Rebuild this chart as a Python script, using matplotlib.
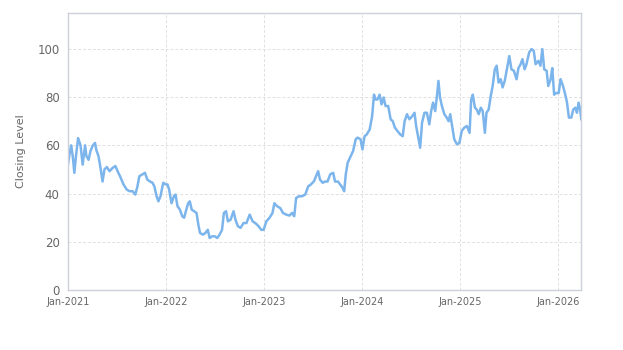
#!/usr/bin/env python3

import numpy as np
import pandas as pd
import matplotlib
matplotlib.use("Agg")
import matplotlib.pyplot as plt
import matplotlib.dates as mdates

# days since 2021-01-01
days = [0, 7, 12, 18, 24, 30, 38, 47, 55, 64, 69, 77, 84, 93, 101, 106, 114, 121, 129, 136,
        145, 155, 167, 177, 185, 195, 207, 219, 229, 241, 251, 259, 266, 278, 287, 296, 306, 315, 322, 330,
        337, 345, 355, 364, 371, 377, 386, 395, 401, 408, 417, 426, 433, 441, 448, 454, 461, 470, 479, 486,
        492, 503, 512, 521, 528, 537, 547, 556, 565, 574, 581, 589, 596, 606, 617, 624, 633, 643, 654, 665,
        677, 688, 698, 710, 720, 729, 739, 751, 762, 769, 779, 791, 801, 813, 825, 835, 843, 850, 861, 872,
        884, 895, 905, 917, 924, 932, 939, 949, 958, 967, 977, 988, 995, 1006, 1014, 1023, 1029, 1035, 1042, 1053,
        1062, 1072, 1079, 1090, 1097, 1105, 1113, 1124, 1133, 1140, 1146, 1153, 1161, 1168, 1176, 1183, 1193, 1202, 1210, 1218,
        1227, 1238, 1247, 1254, 1263, 1272, 1282, 1291, 1297, 1304, 1312, 1319, 1328, 1337, 1346, 1353, 1360, 1368, 1375, 1380,
        1386, 1393, 1402, 1411, 1418, 1424, 1431, 1439, 1449, 1458, 1467, 1476, 1486, 1496, 1502, 1508, 1516, 1523, 1530, 1538,
        1545, 1553, 1559, 1567, 1575, 1582, 1590, 1597, 1604, 1612, 1619, 1627, 1635, 1644, 1652, 1661, 1671, 1678, 1686, 1693,
        1701, 1708, 1718, 1727, 1735, 1742, 1752, 1760, 1767, 1774, 1783, 1789, 1798, 1804, 1811, 1819, 1828, 1835, 1844, 1851,
        1859, 1866, 1875, 1882, 1890, 1896, 1902, 1908, 1912]

closing = [52, 57, 60, 55.5, 48.6, 55.5, 63, 60, 52, 60, 55.5, 54, 57.6, 60, 61, 58, 55.5, 51, 45, 50,
           51, 49.3, 50.7, 51.4, 49.3, 47, 43.8, 41.7, 41, 41, 39.6, 43, 47.2, 48, 48.6, 45.8, 45, 44.5, 43, 39,
           36.8, 39, 44.5, 43.8, 43.8, 41.7, 36, 39, 39.6, 34.8, 33.4, 30.6, 30, 33.4, 36, 36.8, 33.4, 32.7, 32, 27,
           23.7, 23, 23.7, 25, 21.6, 22.3, 22.3, 21.6, 23, 25, 32, 32.7, 28.5, 29.2, 32.7, 29.2, 26.5, 25.8, 27.8, 27.8,
           31.3, 28.5, 27.8, 26.5, 25, 25, 28.5, 30, 32, 36, 34.8, 34, 32, 31.3, 30.9, 32, 30.6, 38.2, 38.9, 38.9,
           39.6, 43, 43.8, 45.2, 47.2, 49.3, 45.8, 44.5, 45, 45, 48, 48.6, 45, 45, 43.8, 42.4, 41, 48, 52.8, 55.5,
           57.6, 62.5, 63.2, 62.5, 58.3, 63.8, 64.5, 66.6, 72, 81, 79, 79, 81, 77, 79.8, 76.3, 76.3, 70.8, 70, 67.3,
           66, 64.5, 63.8, 70, 72.9, 70.8, 72, 73.5, 68, 63.8, 59, 69.4, 73.5, 73.5, 68.7, 74.2, 77.7, 74.2, 81, 86.7,
           79.8, 76.3, 72.9, 71.5, 70, 72.9, 68, 62.5, 60.4, 61, 66, 67.3, 68, 65.2, 79, 81, 75.6, 74.8, 72.9, 75.6,
           74.2, 65.2, 73.5, 74.8, 80.5, 84.6, 91.5, 93, 86, 87.4, 84, 86.7, 91.5, 97, 91.5, 90.9, 87.4, 92, 93.6, 95.7,
           91.5, 93.6, 98.5, 99.9, 99.2, 93.6, 95, 93, 99.9, 91.5, 90.9, 84.6, 87.4, 92, 81, 81.7, 81.7, 87.4, 84.6, 81.7,
           77.7, 71.5, 71.5, 74.8, 75.6, 73.5, 77.7, 74.8, 70.8]

y_ticks = [0, 20, 40, 60, 80, 100]

dates = pd.Timestamp("2021-01-01") + pd.to_timedelta(days, unit="D")

fig = plt.figure(figsize=(6.23, 3.5), dpi=100)
ax = fig.add_axes([0.109, 0.171, 0.824, 0.793])

ax.plot(dates, closing, color="#7cb5ec", linewidth=1.8)

ax.set_xlim(dates[0], dates[-1])
ax.set_ylim(0, 115)
ax.set_yticks(y_ticks)
ax.xaxis.set_major_locator(mdates.YearLocator())
ax.xaxis.set_major_formatter(mdates.DateFormatter("%b-%Y"))

ax.grid(True, color="#e0e0e0", linestyle=(0, (3, 2)), linewidth=0.7)
ax.set_axisbelow(True)
for s in ax.spines.values():
    s.set_color("#ccd1dc")
    s.set_linewidth(1.0)

ax.tick_params(axis="y", length=0, labelsize=8.5, labelcolor="#666666", pad=6)
ax.tick_params(axis="x", length=0, labelsize=7, labelcolor="#666666", pad=5)
ax.set_ylabel("Closing Level", fontsize=8, color="#666666", labelpad=8)

fig.savefig("out.png", dpi=100)
